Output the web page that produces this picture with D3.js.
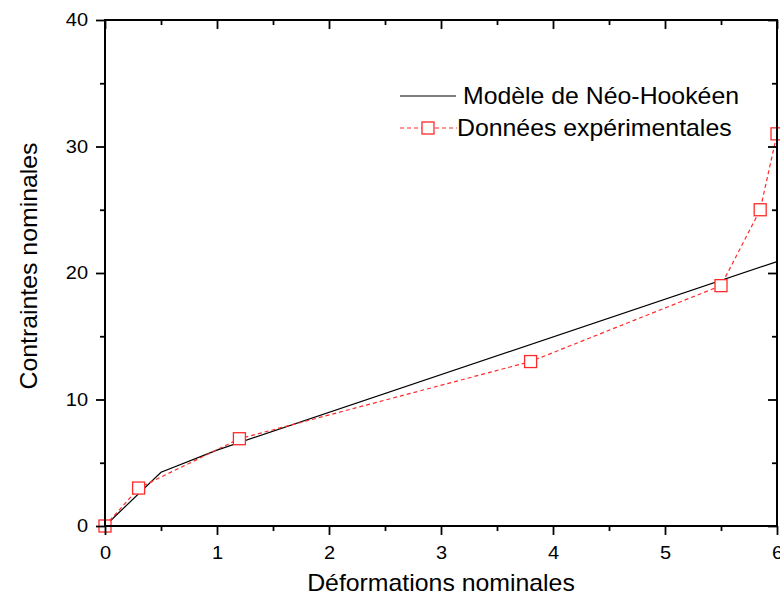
<!DOCTYPE html>
<html><head><meta charset="utf-8">
<script src="https://cdn.jsdelivr.net/npm/d3@7"></script>
<style>body{margin:0;background:#fff}text{font-family:Arial,"Liberation Sans",sans-serif;fill:#000}</style>
</head><body><svg id="c" width="780" height="600"></svg>
<script>
const modelX = [0, 0.5, 1, 6];
const modelY = [0, 4.25, 6.0, 20.9];
const expX = [0, 0.3, 1.2, 3.8, 5.5, 5.85, 6];
const expY = [0, 3, 6.9, 13, 19, 25, 31];
const xTicks = [0, 1, 2, 3, 4, 5, 6];
const yTicks = [0, 10, 20, 30, 40];
const xMinor = [0.5, 1.5, 2.5, 3.5, 4.5, 5.5];
const yMinor = [5, 15, 25, 35];
const legendLabels = ["Modèle de Néo-Hookéen", "Données expérimentales"];
const xTitle = "Déformations nominales";
const yTitle = "Contraintes nominales";

(function () {
const L = 105, R = 777, T = 20, B = 526, SX = 1.08;
const svg = d3.select("#c");
const x = d3.scaleLinear().domain([0, 6]).range([L, R]);
const y = d3.scaleLinear().domain([0, 40]).range([B, T]);
const red = "#ff2a2a";

function stext(px, py, str, size, anchor, rot) {
  const g = svg.append("g").attr("transform", `translate(${px},${py})` + (rot ? ` rotate(${rot})` : "") + ` scale(${SX},1)`);
  g.append("text").attr("text-anchor", anchor).attr("font-size", size).text(str);
}

// data lines
const line = d3.line().x(d => x(d[0])).y(d => y(d[1]));
svg.append("path").datum(modelX.map((v, i) => [v, modelY[i]]))
  .attr("d", line).attr("fill", "none").attr("stroke", "#000").attr("stroke-width", 1.2);
const expData = expX.map((v, i) => [v, expY[i]]);
svg.append("path").datum(expData)
  .attr("d", line).attr("fill", "none").attr("stroke", red).attr("stroke-width", 1.2).attr("stroke-dasharray", "4,3");
const ms = 12;
svg.selectAll("rect.m").data(expData).enter().append("rect").attr("class", "m")
  .attr("x", d => x(d[0]) - ms / 2).attr("y", d => y(d[1]) - ms / 2)
  .attr("width", ms).attr("height", ms).attr("fill", "#fff").attr("stroke", red).attr("stroke-width", 1.3);

// axes
const fs = 18.5;
svg.append("rect").attr("x", L).attr("y", T).attr("width", R - L).attr("height", B - T)
  .attr("fill", "none").attr("stroke", "#000").attr("stroke-width", 2);
svg.append("g").attr("transform", `translate(0,${B})`)
  .call(d3.axisBottom(x).tickValues(xTicks).tickSize(9).tickPadding(11).tickFormat(d3.format("d")));
svg.append("g").attr("transform", `translate(${L},0)`)
  .call(d3.axisLeft(y).tickValues(yTicks).tickSize(9).tickPadding(6.7).tickFormat(d3.format("d")));
svg.append("g").attr("transform", `translate(0,${T})`)
  .call(d3.axisBottom(x).tickValues(xTicks).tickSize(9).tickFormat(""));
svg.append("g").attr("transform", `translate(${R},0)`)
  .call(d3.axisLeft(y).tickValues(yTicks).tickSize(9).tickFormat(""));
svg.append("g").attr("transform", `translate(0,${B})`).call(d3.axisBottom(x).tickValues(xMinor).tickSize(5).tickFormat(""));
svg.append("g").attr("transform", `translate(${L},0)`).call(d3.axisLeft(y).tickValues(yMinor).tickSize(5).tickFormat(""));
svg.append("g").attr("transform", `translate(0,${T})`).call(d3.axisBottom(x).tickValues(xMinor).tickSize(5).tickFormat(""));
svg.append("g").attr("transform", `translate(${R},0)`).call(d3.axisLeft(y).tickValues(yMinor).tickSize(5).tickFormat(""));
svg.selectAll(".domain").remove();
svg.selectAll(".tick line").attr("stroke", "#000").attr("stroke-width", 1.8);
svg.selectAll(".tick text").attr("font-size", fs).attr("font-family", "Arial, 'Liberation Sans', sans-serif")
  .attr("transform", `scale(${SX},1)`);

// titles
stext((L + R) / 2, 591, xTitle, 23, "middle");
stext(37, 266, yTitle, 23, "middle", -90);

// legend
svg.append("line").attr("x1", 400).attr("x2", 456).attr("y1", 96).attr("y2", 96).attr("stroke", "#000").attr("stroke-width", 1.2);
stext(463, 104, legendLabels[0], 23, "start");
svg.append("line").attr("x1", 400).attr("x2", 457).attr("y1", 128).attr("y2", 128).attr("stroke", red).attr("stroke-width", 1.2).attr("stroke-dasharray", "4,3");
svg.append("rect").attr("x", 428 - ms / 2).attr("y", 128 - ms / 2).attr("width", ms).attr("height", ms)
  .attr("fill", "#fff").attr("stroke", red).attr("stroke-width", 1.3);
stext(457, 136, legendLabels[1], 23, "start");
})();
</script></body></html>
